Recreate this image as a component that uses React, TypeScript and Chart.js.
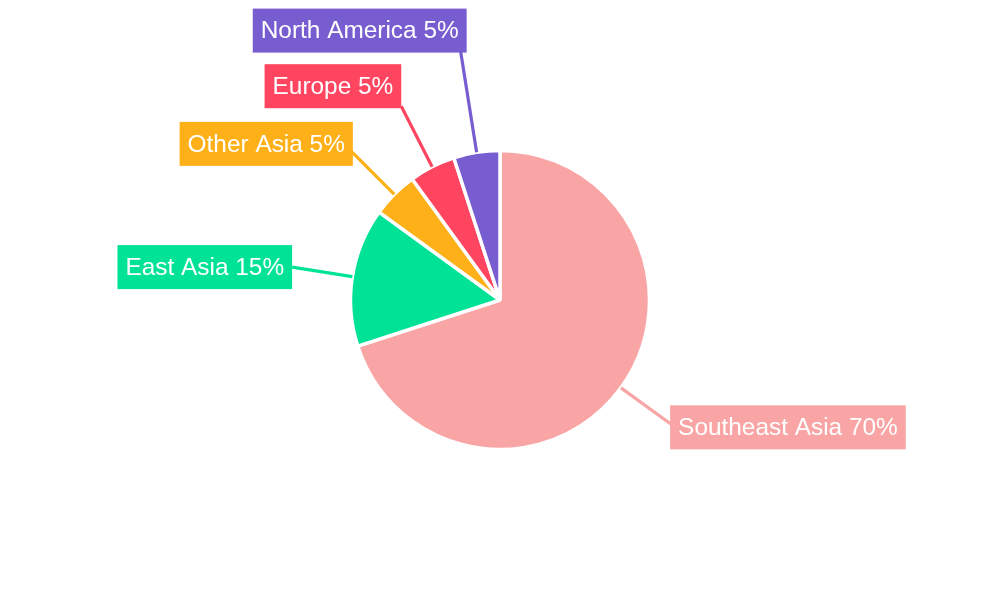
import React, { useEffect, useRef } from "react";
import { Chart, registerables } from "chart.js";

Chart.register(...registerables);

const regions = ["Southeast Asia", "East Asia", "Other Asia", "Europe", "North America"];
const shares = [70, 15, 5, 5, 5];
const colors = ["#F9A5A5", "#00E396", "#FEB019", "#FF4560", "#775DD0"];
// leader line length beyond the pie edge, and box offsets relative to the line end
const leaderLength = [62, 61, 60, 68, 102];
const boxShiftX = [-1, 0, 1, 0, 6];
const boxShiftY = [3, 0, -8, -20, -21];

const labelPlugin = {
  id: "outsideLabels",
  afterDatasetsDraw(chart: any) {
    const ctx = chart.ctx as CanvasRenderingContext2D;
    const meta = chart.getDatasetMeta(0);
    ctx.save();
    ctx.font = '24.4px "Liberation Sans", Arial, sans-serif';
    meta.data.forEach((arc: any, i: number) => {
      const p = arc.getProps(["x", "y", "startAngle", "endAngle", "outerRadius"], true);
      const mid = (p.startAngle + p.endAngle) / 2;
      const cos = Math.cos(mid);
      const sin = Math.sin(mid);
      const r0 = p.outerRadius;
      const r1 = r0 + leaderLength[i];
      const sx = p.x + cos * r0;
      const sy = p.y + sin * r0;
      const ex = p.x + cos * r1;
      const ey = p.y + sin * r1;
      ctx.strokeStyle = colors[i];
      ctx.lineWidth = 3.2;
      ctx.beginPath();
      ctx.moveTo(sx, sy);
      ctx.lineTo(ex, ey);
      ctx.stroke();

      const text = `${regions[i]} ${shares[i]}%`;
      const pad = 8;
      const w = ctx.measureText(text).width + pad * 2;
      const h = 44;
      const right = cos >= 0;
      const bx = right ? ex + boxShiftX[i] : ex + boxShiftX[i] - w;
      const by = ey + boxShiftY[i] - h / 2;
      ctx.fillStyle = colors[i];
      ctx.fillRect(bx, by, w, h);
      ctx.fillStyle = "#ffffff";
      ctx.textBaseline = "middle";
      ctx.textAlign = "left";
      ctx.fillText(text, bx + pad, by + h / 2 + 1);
    });
    ctx.restore();
  },
};

export default function App() {
  const ref = useRef<HTMLCanvasElement>(null);
  useEffect(() => {
    if (!ref.current) return;
    const chart = new Chart(ref.current, {
      type: "pie",
      data: {
        labels: regions,
        datasets: [
          {
            data: shares,
            backgroundColor: colors,
            borderColor: "#ffffff",
            borderWidth: 3.5,
          },
        ],
      },
      options: {
        animation: false,
        responsive: false,
        radius: 149.5,
        layout: { padding: 0 },
        plugins: {
          legend: { display: false },
          tooltip: { enabled: false },
        },
      } as any,
      plugins: [labelPlugin],
    });
    return () => chart.destroy();
  }, []);
  return (
    <div style={{ position: "absolute", left: 0, top: 0, width: 1000, height: 600, background: "#fff" }}>
      <canvas ref={ref} width={1000} height={600} style={{ width: 1000, height: 600 }} />
    </div>
  );
}
